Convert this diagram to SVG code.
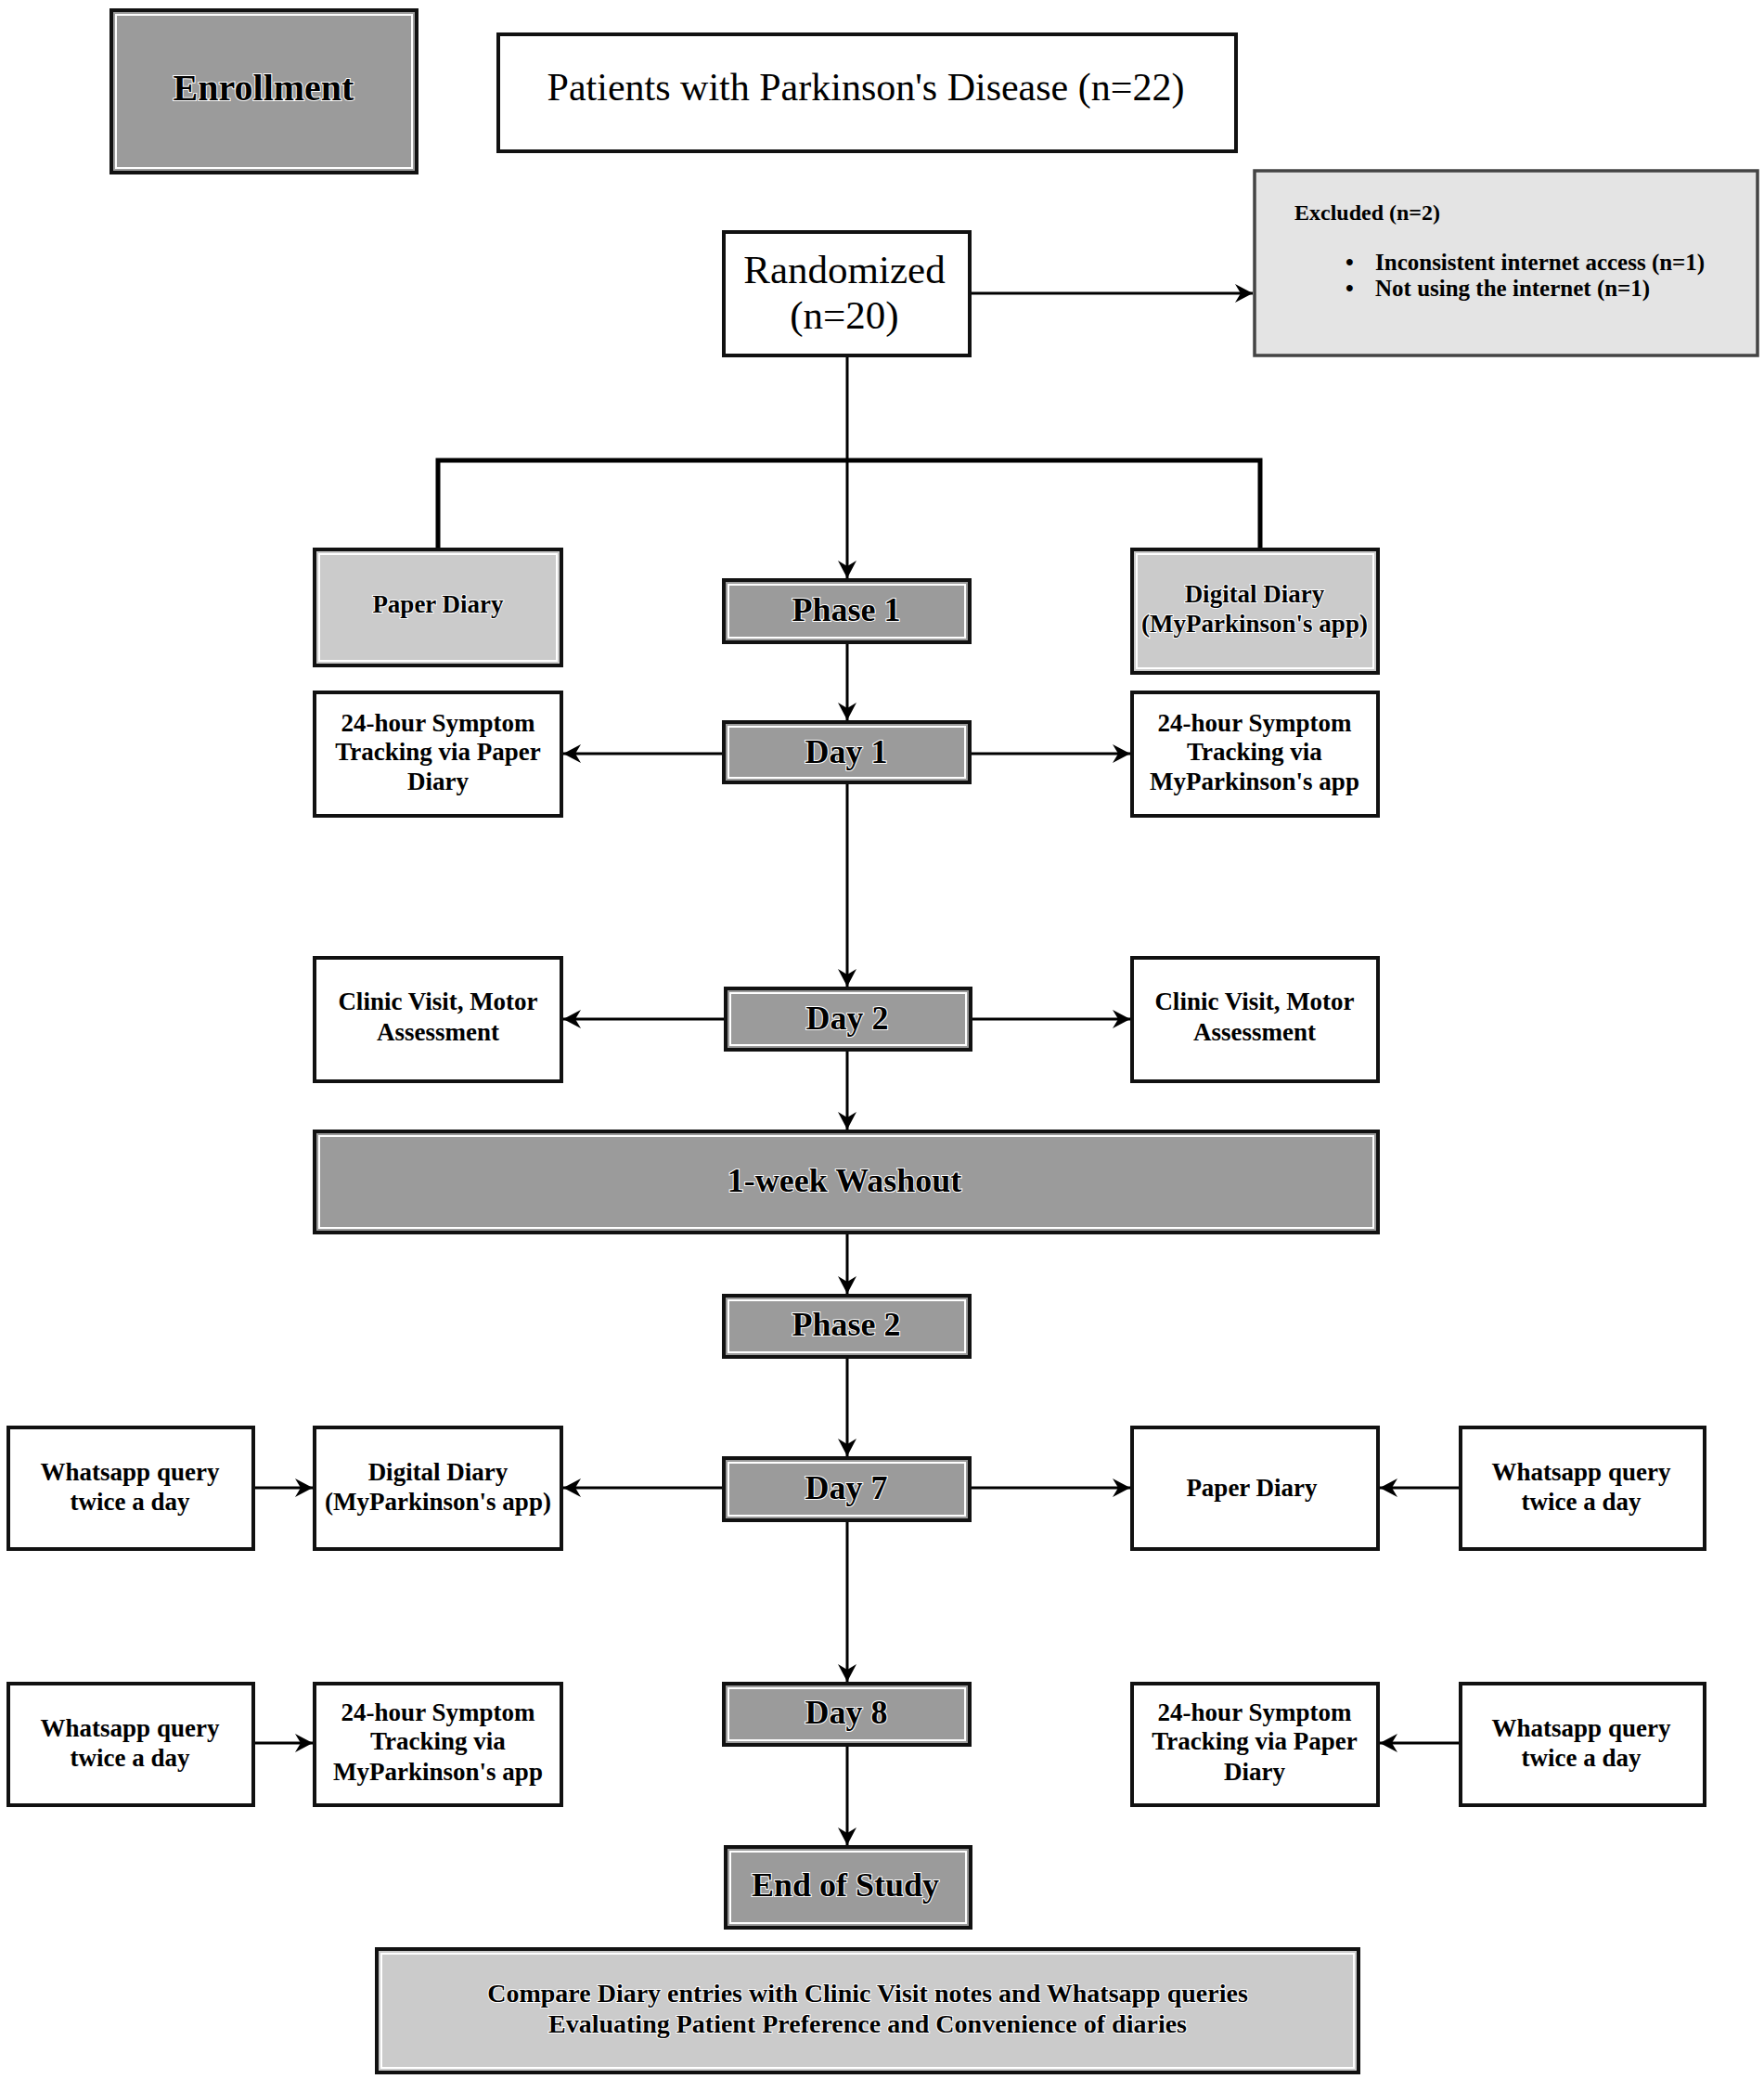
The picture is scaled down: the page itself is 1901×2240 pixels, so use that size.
<svg xmlns="http://www.w3.org/2000/svg" width="1901" height="2240" viewBox="0 0 1901 2240">
<style>
.box{stroke:#111;stroke-width:4}
.dark{fill:#9b9b9b}
.light{fill:#cbcbcb}
.white{fill:#fff}
.excl{fill:#e4e4e4;stroke:#444;stroke-width:3.5}
.inner{fill:none;stroke:#fff;stroke-width:2}
.t{font-family:"Liberation Serif","DejaVu Serif",serif;font-weight:bold;text-anchor:middle;dominant-baseline:central;fill:#000}
.halo{stroke:#fff;stroke-width:2;paint-order:stroke}
.s27{font-size:27px}
.s36{font-size:36px}
.tl{text-anchor:start}
.conn{stroke:#000;stroke-width:3;fill:none}
.bracket{stroke:#000;stroke-width:5;fill:none}
</style>
<defs>
<marker id="ah" markerUnits="userSpaceOnUse" markerWidth="22" markerHeight="22" refX="19" refY="10" orient="auto">
<path d="M0,0 L19,10 L0,20 L6,10 z" fill="#000"/>
</marker>
</defs>
<rect width="1901" height="2240" fill="#fff"/>

<g id="connectors">
<line class="conn" x1="1045" y1="316" x2="1350" y2="316" marker-end="url(#ah)"/>
<line class="conn" x1="913" y1="383" x2="913" y2="623" marker-end="url(#ah)"/>
<polyline class="bracket" points="472,592 472,496 1358,496 1358,592"/>
<line class="conn" x1="913" y1="692" x2="913" y2="776" marker-end="url(#ah)"/>
<line class="conn" x1="780" y1="812" x2="607" y2="812" marker-end="url(#ah)"/>
<line class="conn" x1="1045" y1="812" x2="1218" y2="812" marker-end="url(#ah)"/>
<line class="conn" x1="913" y1="843" x2="913" y2="1063" marker-end="url(#ah)"/>
<line class="conn" x1="782" y1="1098" x2="607" y2="1098" marker-end="url(#ah)"/>
<line class="conn" x1="1046" y1="1098" x2="1218" y2="1098" marker-end="url(#ah)"/>
<line class="conn" x1="913" y1="1131" x2="913" y2="1217" marker-end="url(#ah)"/>
<line class="conn" x1="913" y1="1328" x2="913" y2="1394" marker-end="url(#ah)"/>
<line class="conn" x1="913" y1="1462" x2="913" y2="1569" marker-end="url(#ah)"/>
<line class="conn" x1="780" y1="1603" x2="607" y2="1603" marker-end="url(#ah)"/>
<line class="conn" x1="1045" y1="1603" x2="1218" y2="1603" marker-end="url(#ah)"/>
<line class="conn" x1="273" y1="1603" x2="337" y2="1603" marker-end="url(#ah)"/>
<line class="conn" x1="1574" y1="1603" x2="1487" y2="1603" marker-end="url(#ah)"/>
<line class="conn" x1="913" y1="1638" x2="913" y2="1812" marker-end="url(#ah)"/>
<line class="conn" x1="273" y1="1878" x2="337" y2="1878" marker-end="url(#ah)"/>
<line class="conn" x1="1574" y1="1878" x2="1487" y2="1878" marker-end="url(#ah)"/>
<line class="conn" x1="913" y1="1880" x2="913" y2="1988" marker-end="url(#ah)"/>
</g>

<g id="enrollment">
<rect class="box dark" x="120" y="11" width="329" height="175"/>
<rect class="inner" x="125" y="16" width="319" height="165"/>
<text class="t halo" x="284" y="94" font-size="40">Enrollment</text>
</g>

<g id="patients">
<rect class="box white" x="537" y="37" width="795" height="126"/>
<text class="t" x="933" y="94" font-size="42" style="font-weight:normal">Patients with Parkinson's Disease (n=22)</text>
</g>

<g id="randomized">
<rect class="box white" x="780" y="250" width="265" height="133"/>
<text class="t" x="910" y="290" font-size="43" style="font-weight:normal">Randomized</text>
<text class="t" x="910" y="339" font-size="43" style="font-weight:normal">(n=20)</text>
</g>

<g id="excluded">
<rect class="excl" x="1352" y="184" width="542" height="199"/>
<text class="t tl" x="1395" y="229" font-size="24">Excluded (n=2)</text>
<text class="t tl" x="1450" y="282" font-size="25">•</text>
<text class="t tl" x="1482" y="282" font-size="25">Inconsistent internet access (n=1)</text>
<text class="t tl" x="1450" y="310" font-size="25">•</text>
<text class="t tl" x="1482" y="310" font-size="25">Not using the internet (n=1)</text>
</g>

<g id="paper-diary-1">
<rect class="box light" x="339" y="592" width="266" height="125"/>
<rect class="inner" x="344" y="597" width="256" height="115"/>
<text class="t s27 halo" x="472" y="651">Paper Diary</text>
</g>

<g id="digital-diary-1">
<rect class="box light" x="1220" y="592" width="265" height="133"/>
<rect class="inner" x="1225" y="597" width="255" height="123"/>
<text class="t s27 halo" x="1352" y="640">Digital Diary</text>
<text class="t s27 halo" x="1352" y="672">(MyParkinson's app)</text>
</g>

<g id="phase1">
<rect class="box dark" x="780" y="625" width="265" height="67"/>
<rect class="inner" x="785" y="630" width="255" height="57"/>
<text class="t s36 halo" x="912" y="657">Phase 1</text>
</g>

<g id="day1">
<rect class="box dark" x="780" y="778" width="265" height="65"/>
<rect class="inner" x="785" y="783" width="255" height="55"/>
<text class="t s36 halo" x="912" y="810">Day 1</text>
</g>

<g id="tracking-paper-1">
<rect class="box white" x="339" y="746" width="266" height="133"/>
<text class="t s27" x="472" y="779">24-hour Symptom</text>
<text class="t s27" x="472" y="810">Tracking via Paper</text>
<text class="t s27" x="472" y="842">Diary</text>
</g>

<g id="tracking-app-1">
<rect class="box white" x="1220" y="746" width="265" height="133"/>
<text class="t s27" x="1352" y="779">24-hour Symptom</text>
<text class="t s27" x="1352" y="810">Tracking via</text>
<text class="t s27" x="1352" y="842">MyParkinson's app</text>
</g>

<g id="day2">
<rect class="box dark" x="782" y="1065" width="264" height="66"/>
<rect class="inner" x="787" y="1070" width="254" height="56"/>
<text class="t s36 halo" x="913" y="1097">Day 2</text>
</g>

<g id="clinic-left">
<rect class="box white" x="339" y="1032" width="266" height="133"/>
<text class="t s27" x="472" y="1079">Clinic Visit, Motor</text>
<text class="t s27" x="472" y="1112">Assessment</text>
</g>

<g id="clinic-right">
<rect class="box white" x="1220" y="1032" width="265" height="133"/>
<text class="t s27" x="1352" y="1079">Clinic Visit, Motor</text>
<text class="t s27" x="1352" y="1112">Assessment</text>
</g>

<g id="washout">
<rect class="box dark" x="339" y="1219" width="1146" height="109"/>
<rect class="inner" x="344" y="1224" width="1136" height="99"/>
<text class="t s36 halo" x="910" y="1272">1-week Washout</text>
</g>

<g id="phase2">
<rect class="box dark" x="780" y="1396" width="265" height="66"/>
<rect class="inner" x="785" y="1401" width="255" height="56"/>
<text class="t s36 halo" x="912" y="1427">Phase 2</text>
</g>

<g id="day7">
<rect class="box dark" x="780" y="1571" width="265" height="67"/>
<rect class="inner" x="785" y="1576" width="255" height="57"/>
<text class="t s36 halo" x="912" y="1603">Day 7</text>
</g>

<g id="whatsapp-7-left">
<rect class="box white" x="9" y="1538" width="264" height="131"/>
<text class="t s27" x="140" y="1586">Whatsapp query</text>
<text class="t s27" x="140" y="1618">twice a day</text>
</g>

<g id="digital-diary-7">
<rect class="box white" x="339" y="1538" width="266" height="131"/>
<text class="t s27" x="472" y="1586">Digital Diary</text>
<text class="t s27" x="472" y="1618">(MyParkinson's app)</text>
</g>

<g id="paper-diary-7">
<rect class="box white" x="1220" y="1538" width="265" height="131"/>
<text class="t s27" x="1349" y="1603">Paper Diary</text>
</g>

<g id="whatsapp-7-right">
<rect class="box white" x="1574" y="1538" width="263" height="131"/>
<text class="t s27" x="1704" y="1586">Whatsapp query</text>
<text class="t s27" x="1704" y="1618">twice a day</text>
</g>

<g id="day8">
<rect class="box dark" x="780" y="1814" width="265" height="66"/>
<rect class="inner" x="785" y="1819" width="255" height="56"/>
<text class="t s36 halo" x="912" y="1845">Day 8</text>
</g>

<g id="whatsapp-8-left">
<rect class="box white" x="9" y="1814" width="264" height="131"/>
<text class="t s27" x="140" y="1862">Whatsapp query</text>
<text class="t s27" x="140" y="1894">twice a day</text>
</g>

<g id="tracking-app-8">
<rect class="box white" x="339" y="1814" width="266" height="131"/>
<text class="t s27" x="472" y="1845">24-hour Symptom</text>
<text class="t s27" x="472" y="1876">Tracking via</text>
<text class="t s27" x="472" y="1909">MyParkinson's app</text>
</g>

<g id="tracking-paper-8">
<rect class="box white" x="1220" y="1814" width="265" height="131"/>
<text class="t s27" x="1352" y="1845">24-hour Symptom</text>
<text class="t s27" x="1352" y="1876">Tracking via Paper</text>
<text class="t s27" x="1352" y="1909">Diary</text>
</g>

<g id="whatsapp-8-right">
<rect class="box white" x="1574" y="1814" width="263" height="131"/>
<text class="t s27" x="1704" y="1862">Whatsapp query</text>
<text class="t s27" x="1704" y="1894">twice a day</text>
</g>

<g id="end-of-study">
<rect class="box dark" x="782" y="1990" width="264" height="87"/>
<rect class="inner" x="787" y="1995" width="254" height="77"/>
<text class="t s36 halo" x="911" y="2031">End of Study</text>
</g>

<g id="outcomes">
<rect class="box light" x="406" y="2100" width="1058" height="133"/>
<rect class="inner" x="411" y="2105" width="1048" height="123"/>
<text class="t halo" x="935" y="2147" font-size="28">Compare Diary entries with Clinic Visit notes and Whatsapp queries</text>
<text class="t halo" x="935" y="2180" font-size="28">Evaluating Patient Preference and Convenience of diaries</text>
</g>
</svg>
